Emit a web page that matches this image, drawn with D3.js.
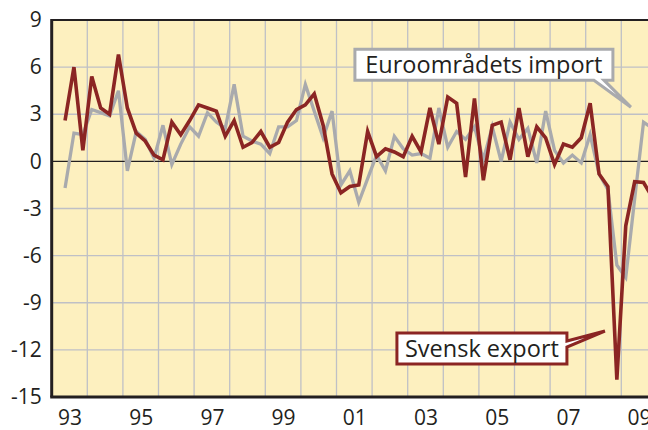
<!DOCTYPE html>
<html>
<head>
  <meta charset="utf-8">
  <script src="https://d3js.org/d3.v7.min.js"></script>
  <style>
    body { margin: 0; background: white; }
    svg { display: block; font-family: "Open Sans", sans-serif; }
    .tick text { fill: #231f20; }
  </style>
</head>
<body>
  <svg id="chart" width="648" height="430"></svg>
  <script>
    // quarterly series, first point is 1993 Q2
    const years = d3.range(1993, 2010);
    const periods = years.flatMap(y => [1, 2, 3, 4].map(q => ({ year: y, q: q }))).slice(1, 68);

    const svenskExport = [
      2.6, 6.0, 0.7,
      5.4, 3.4, 3.0, 6.8,
      3.4, 1.8, 1.3, 0.4,
      0.1, 2.5, 1.7, 2.6,
      3.6, 3.4, 3.2, 1.6,
      2.6, 0.9, 1.2, 1.9,
      0.9, 1.2, 2.5, 3.3,
      3.6, 4.3, 2.3, -0.8,
      -2.0, -1.6, -1.5, 1.9,
      0.3, 0.8, 0.6, 0.3,
      1.6, 0.6, 3.4, 1.1,
      4.1, 3.7, -1.0, 4.0,
      -1.2, 2.3, 2.5, 0.1,
      3.4, 0.3, 2.2, 1.5,
      -0.2, 1.1, 0.9, 1.5,
      3.7, -0.8, -1.6, -13.9,
      -4.1, -1.3, -1.35, -2.3
    ];

    const euroImport = [
      -1.7, 1.8, 1.7,
      3.3, 3.1, 2.9, 4.5,
      -0.6, 1.9, 1.4, 0.2,
      2.3, -0.2, 1.1, 2.2,
      1.6, 3.1, 2.5, 2.1,
      4.9, 1.6, 1.3, 1.1,
      0.5, 2.2, 2.2, 2.6,
      4.9, 3.2, 1.5, 3.2,
      -1.5, -0.6, -2.6, -1.1,
      0.4, -0.6, 1.6, 0.8,
      0.4, 0.5, 0.2, 3.4,
      0.9, 1.9, 1.4, 2.2,
      0.1, 2.2, 0.0, 2.5,
      1.4, 2.1, -0.1, 3.2,
      0.7, -0.1, 0.4, -0.1,
      1.7, -0.8, -1.8, -6.6,
      -7.4, -2.4, 2.5, 2.1
    ];

    const yTicks = [-15, -12, -9, -6, -3, 0, 3, 6, 9];
    const xLabelYears = [1993, 1995, 1997, 1999, 2001, 2003, 2005, 2007, 2009];
    const xLabels = ["93", "95", "97", "99", "01", "03", "05", "07", "09"];

    // annotations: label text and the point the tail aims at (year, value)
    const labelTexts = ["Euroområdets import", "Svensk export"];
    const labelTips = [[2009.27, 3.45], [2008.54, -10.8]];

    const svg = d3.select("#chart");
    const width = +svg.attr("width");
    const height = +svg.attr("height");
    const margin = { top: 20, left: 51.7, bottom: 33 };
    const yearW = 35.6;

    const x = d3.scaleLinear().domain([1993, 2010]).range([margin.left, margin.left + 17 * yearW]);
    const y = d3.scaleLinear().domain([-15, 9]).range([height - margin.bottom, margin.top]);
    const xOf = p => x(p.year + (p.q - 0.5) / 4);

    // plot background
    svg.append("rect")
      .attr("x", x(1993)).attr("y", y(9))
      .attr("width", width - x(1993)).attr("height", y(-15) - y(9))
      .attr("fill", "#fdf0bf");

    const grid = svg.append("g").attr("stroke", "#bfc0c6").attr("stroke-width", 1.3);
    grid.selectAll("line.h").data(yTicks.filter(d => d !== 0 && d !== 9 && d !== -15))
      .join("line").attr("class", "h")
      .attr("x1", x(1993)).attr("x2", width)
      .attr("y1", d => y(d)).attr("y2", d => y(d));
    grid.selectAll("line.v").data(years.slice(1))
      .join("line").attr("class", "v")
      .attr("x1", d => x(d)).attr("x2", d => x(d))
      .attr("y1", y(9)).attr("y2", y(-15));

    // zero line
    svg.append("line")
      .attr("x1", x(1993)).attr("x2", width)
      .attr("y1", y(0)).attr("y2", y(0))
      .attr("stroke", "#231f20").attr("stroke-width", 1.3);

    const line = d3.line().x((d, i) => xOf(periods[i])).y(d => y(d));

    svg.append("path").datum(euroImport)
      .attr("d", line)
      .attr("fill", "none")
      .attr("stroke", "#a9aaad")
      .attr("stroke-width", 3.3);

    svg.append("path").datum(svenskExport)
      .attr("d", line)
      .attr("fill", "none")
      .attr("stroke", "#8b2523")
      .attr("stroke-width", 3.6);

    // frame
    svg.append("line")
      .attr("x1", x(1993)).attr("x2", width)
      .attr("y1", y(9)).attr("y2", y(9))
      .attr("stroke", "#231f20").attr("stroke-width", 2);
    svg.append("line")
      .attr("x1", x(1993) - 1.5).attr("x2", width)
      .attr("y1", y(-15)).attr("y2", y(-15))
      .attr("stroke", "#231f20").attr("stroke-width", 3);
    svg.append("line")
      .attr("x1", x(1993)).attr("x2", x(1993))
      .attr("y1", y(9) - 1).attr("y2", y(-15))
      .attr("stroke", "#231f20").attr("stroke-width", 3);

    // axes
    const leftAxis = d3.axisLeft(y).tickValues(yTicks).tickFormat(d => String(d))
      .tickSize(0).tickPadding(10);
    svg.append("g")
      .attr("transform", `translate(${x(1993)},0)`)
      .call(leftAxis)
      .call(g => g.select(".domain").remove())
      .selectAll("text").attr("font-size", 21).attr("font-family", "Open Sans");

    const bottomAxis = d3.axisBottom(x)
      .tickValues(xLabelYears.map(d => d + 0.5))
      .tickFormat((d, i) => xLabels[i])
      .tickSize(0).tickPadding(13);
    svg.append("g")
      .attr("transform", `translate(0,${y(-15)})`)
      .call(bottomAxis)
      .call(g => g.select(".domain").remove())
      .selectAll("text").attr("font-size", 21).attr("font-family", "Open Sans");

    // euro label with tail down to the right
    {
      const [tx, ty] = [x(labelTips[0][0]), y(labelTips[0][1])];
      const bx0 = tx - 276, bx1 = tx - 18, by0 = ty - 58, by1 = ty - 27;
      svg.append("path")
        .attr("d", `M${bx0},${by0}H${bx1}V${by1}H${tx - 27}L${tx},${ty}L${tx - 37},${by1}H${bx0}Z`)
        .attr("fill", "white").attr("stroke", "#a9aaad").attr("stroke-width", 3)
        .attr("stroke-linejoin", "miter");
      svg.append("text")
        .attr("x", (bx0 + bx1) / 2).attr("y", by1 - 7.5)
        .attr("text-anchor", "middle")
        .attr("font-size", 23.5).attr("fill", "#231f20")
        .text(labelTexts[0]);
    }

    // svensk label with tail to the right
    {
      const [tx, ty] = [x(labelTips[1][0]), y(labelTips[1][1])];
      const bx0 = tx - 208, bx1 = tx - 38, by0 = ty + 2, by1 = ty + 33;
      svg.append("path")
        .attr("d", `M${bx0},${by0}H${bx1}V${ty + 10}L${tx},${ty}L${bx1},${ty + 16}V${by1}H${bx0}Z`)
        .attr("fill", "white").attr("stroke", "#8b2523").attr("stroke-width", 3)
        .attr("stroke-linejoin", "miter");
      svg.append("text")
        .attr("x", (bx0 + bx1) / 2).attr("y", by1 - 7.5)
        .attr("text-anchor", "middle")
        .attr("font-size", 23.5).attr("fill", "#231f20")
        .text(labelTexts[1]);
    }
  </script>
</body>
</html>
